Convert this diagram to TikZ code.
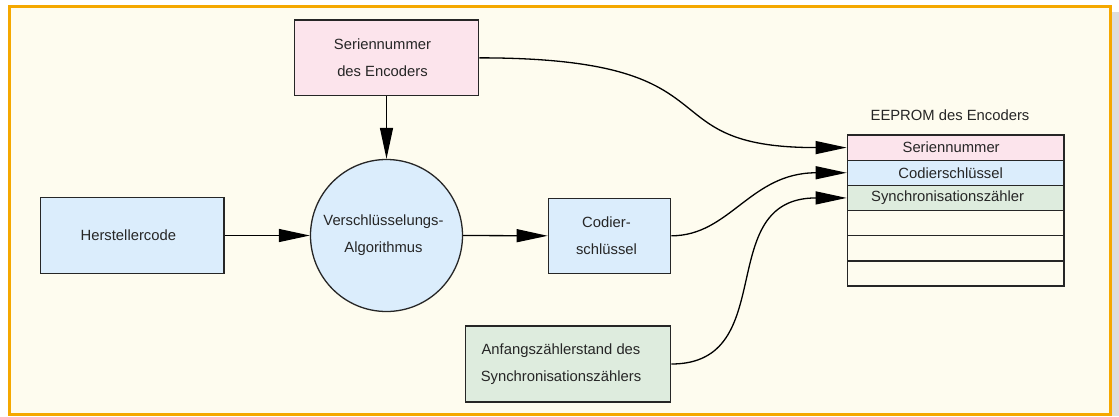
\documentclass[tikz,border=0pt]{standalone}
\usepackage{fontspec}
\setmainfont{Liberation Sans}
\usetikzlibrary{arrows.meta,calc}
\definecolor{frameor}{RGB}{245,168,0}
\definecolor{cream}{RGB}{254,252,239}
\definecolor{pinkf}{RGB}{252,228,236}
\definecolor{bluef}{RGB}{219,237,252}
\definecolor{greenf}{RGB}{222,236,222}
\definecolor{shadowg}{RGB}{221,221,221}
\begin{document}
\begin{tikzpicture}[x=1pt,y=-1pt,
  box/.style={draw=black!85, line width=1.3pt, inner sep=0pt, rectangle},
  txt/.style={font=\fontsize{14.8}{26.8}\selectfont, align=center, inner sep=0pt, text=black!85},
  rowbox/.style={box, minimum width=216.7pt, minimum height=25.17pt},
  arr/.style={line width=1.3pt, draw=black, -{Triangle[length=31pt,width=13pt]}}]
\useasboundingbox (0,0) rectangle (1119,416);
\fill[white] (0,0) rectangle (1119,416);
\fill[shadowg] (1112,12) rectangle (1119,416);
\draw[frameor, line width=3pt, fill=cream] (9.5,6.2) rectangle (1110.3,414.6);

% boxes
\node[box, fill=pinkf, minimum width=184.3pt, minimum height=75.7pt] (ser) at (386.5,57.85) {};
\node[txt] (sert) at ([xshift=-4pt]ser.center) {Seriennummer\\des Encoders};
\node[box, fill=bluef, minimum width=183.3pt, minimum height=76.3pt] (herst) at (132.35,235.5) {};
\node[txt] (herstt) at ([xshift=-4pt]herst.center) {Herstellercode};
\node[box, circle, fill=bluef, minimum size=152pt] (circ) at (386.5,235.5) {};
\node[txt] (circt) at ([xshift=-3pt]circ.center) {Verschlüsselungs-\\Algorithmus};
\node[box, fill=bluef, minimum width=122.4pt, minimum height=75pt] (cod) at (609.5,235.8) {};
\node[txt] (codt) at ([xshift=-3pt]cod.center) {Codier-\\schlüssel};
\node[box, fill=greenf, minimum width=205.4pt, minimum height=76pt] (anf) at (568,364) {};
\node[txt] (anft) at ([xshift=-7pt]anf.center) {Anfangszählerstand des\\Synchronisationszählers};

% EEPROM table
\node[txt, anchor=base] (ttl) at (950,120.7) {EEPROM des Encoders};
\node[rowbox, fill=pinkf] (r1) at (955.65,147.585) {};
\node[rowbox, fill=bluef] (r2) at (955.65,172.755) {};
\node[rowbox, fill=greenf] (r3) at (955.65,197.925) {};
\node[rowbox, fill=cream] (r4) at (955.65,223.095) {};
\node[rowbox, fill=cream] (r5) at (955.65,248.265) {};
\node[rowbox, fill=cream] (r6) at (955.65,273.435) {};
\node[txt] (r1t) at ([xshift=-4.5pt]r1.center) {Seriennummer};
\node[txt] (r2t) at ([xshift=-5pt]r2.center) {Codierschlüssel};
\node[txt] (r3t) at ([xshift=-8pt]r3.center) {Synchronisationszähler};

% connectors
\draw[arr] (herst.east) -- (circ.west);
\draw[arr] (ser.south) -- (circ.north);
\draw[arr] (circ.east) -- (cod.west);
\draw[arr] (ser.east) .. controls (745,57.85) and (641,147.6) .. ($(r1.west)+(-30.5,0)$) -- (r1.west);
\draw[arr] (cod.east) .. controls (730,235.8) and (750,172.75) .. ($(r2.west)+(-30.5,0)$) -- (r2.west);
\draw[arr] (anf.east) .. controls (781.6,364) and (711.6,197.9) .. ($(r3.west)+(-30.5,0)$) -- (r3.west);
\end{tikzpicture}
\end{document}
